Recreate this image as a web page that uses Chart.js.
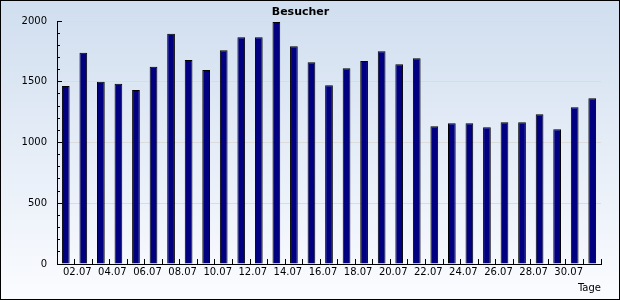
<!DOCTYPE html>
<html>
<head>
<meta charset="utf-8">
<title>Besucher</title>
<script src="https://cdn.jsdelivr.net/npm/chart.js@4/dist/chart.umd.min.js"></script>
<style>
  html, body { margin: 0; padding: 0; background: #fff; }
  canvas { display: block; }
</style>
</head>
<body>
<canvas id="visitorsChart" width="620" height="300"></canvas>
<script>
const days = [
  '01.07', '02.07', '03.07', '04.07', '05.07', '06.07', '07.07', '08.07',
  '09.07', '10.07', '11.07', '12.07', '13.07', '14.07', '15.07', '16.07',
  '17.07', '18.07', '19.07', '20.07', '21.07', '22.07', '23.07', '24.07',
  '25.07', '26.07', '27.07', '28.07', '29.07', '30.07', '31.07'
];
const visitors = [
  1465, 1738, 1500, 1483, 1433, 1623, 1895, 1678,
  1596, 1760, 1867, 1867, 1991, 1793, 1661, 1472,
  1612, 1670, 1752, 1645, 1694, 1134, 1159, 1159,
  1126, 1167, 1167, 1233, 1109, 1291, 1365
];
const yMin = 0;
const yMax = 2000;
const yMajorStep = 500;
const yMinorStep = 100;

const baseFont = 'DejaVu Sans';

// gradient behind everything, black frame on top
const backdrop = {
  id: 'backdrop',
  beforeDraw(chart) {
    const { ctx, width, height } = chart;
    const grad = ctx.createLinearGradient(0, 0, 0, height);
    grad.addColorStop(0, 'rgb(208,222,239)');
    grad.addColorStop(1, 'rgb(251,252,255)');
    ctx.save();
    ctx.fillStyle = grad;
    ctx.fillRect(0, 0, width, height);
    ctx.restore();
  },
  afterDraw(chart) {
    const { ctx, width, height } = chart;
    ctx.save();
    ctx.strokeStyle = '#000';
    ctx.lineWidth = 1;
    ctx.strokeRect(0.5, 0.5, width - 1, height - 1);
    ctx.restore();
  }
};

new Chart(document.getElementById('visitorsChart'), {
  type: 'bar',
  data: {
    labels: days,
    datasets: [{
      label: 'Besucher',
      data: visitors,
      backgroundColor: '#000080',
      borderColor: '#000',
      borderWidth: 1,
      barPercentage: 0.44,
      categoryPercentage: 1
    }]
  },
  options: {
    responsive: false,
    animation: false,
    devicePixelRatio: 1,
    layout: { padding: { top: 0, right: 19, bottom: 0, left: 0 } },
    plugins: {
      legend: { display: false },
      tooltip: { enabled: false },
      title: {
        display: true,
        text: 'Besucher',
        color: '#000',
        font: { family: baseFont, size: 11, weight: 'bold' },
        padding: { top: 6, bottom: 1.8 }
      }
    },
    scales: {
      x: {
        grid: { offset: true, drawOnChartArea: false, tickLength: -5, tickColor: '#000' },
        border: { color: '#000' },
        ticks: {
          autoSkip: false,
          maxRotation: 0,
          labelOffset: -6,
          padding: 7,
          color: '#000',
          font: { family: baseFont, size: 10 },
          callback: (value, index) => (index % 2 === 1 ? days[index] : '')
        },
        title: {
          display: true,
          text: 'Tage',
          align: 'end',
          color: '#000',
          font: { family: baseFont, size: 10 },
          padding: { top: 0, bottom: 6 }
        },
        afterFit: (scale) => { scale.height = 36; }
      },
      y: {
        weight: 1,
        min: yMin,
        max: yMax,
        grid: {
          color: '#dcdcdc',
          tickLength: -5,
          tickColor: '#000'
        },
        border: { color: '#000' },
        ticks: {
          stepSize: yMajorStep,
          padding: 15,
          color: '#000',
          font: { family: baseFont, size: 10 },
          callback: (value) => String(value)
        },
        afterFit: (scale) => { scale.width = 57; }
      },
      yMinor: {
        axis: 'y',
        position: 'left',
        weight: 0,
        min: yMin,
        max: yMax,
        grid: { drawOnChartArea: false, tickLength: -3, tickColor: '#000' },
        border: { display: false },
        ticks: { stepSize: yMinorStep, display: false },
        afterFit: (scale) => { scale.width = 0; }
      }
    }
  },
  plugins: [backdrop]
});
</script>
</body>
</html>
